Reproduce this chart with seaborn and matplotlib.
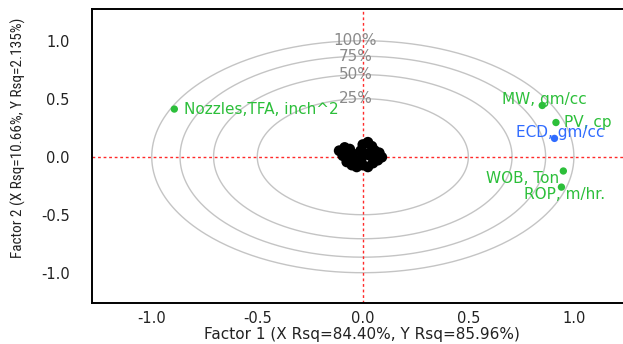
import numpy as np
import pandas as pd
import matplotlib
matplotlib.use("Agg")
import matplotlib.pyplot as plt
import seaborn as sns

# Variable loadings on the two factors
variables = ["Nozzles,TFA, inch^2", "MW, gm/cc", "PV, cp", "ECD, gm/cc", "WOB, Ton", "ROP, m/hr."]
load_x = [-0.893, 0.850, 0.915, 0.908, 0.950, 0.941]
load_y = [0.411, 0.442, 0.295, 0.158, -0.123, -0.262]
groups = ["X", "X", "X", "Y", "X", "Y2"]

# Observation scores clustered near the origin
score_x = [-0.112, -0.086, -0.062, -0.048, -0.095, -0.076, -0.052, -0.029, -0.038,
           0.000, 0.024, 0.043, 0.057, 0.078, 0.090, 0.071, 0.048, 0.024, 0.000,
           -0.005, 0.019, -0.010, -0.070, 0.035, 0.060, -0.020]
score_y = [0.052, 0.080, 0.066, 0.026, 0.009, -0.045, -0.072, -0.088, -0.034,
           0.105, 0.125, 0.090, 0.052, 0.034, -0.004, -0.030, -0.055, -0.088, -0.072,
           -0.009, 0.026, 0.052, 0.030, 0.010, 0.000, -0.055]

# Percent-of-variance circles
circle_pct = [25, 50, 75, 100]
circle_labels = ["25%", "50%", "75%", "100%"]

# Tick values
xticks = [-1.0, -0.5, 0.0, 0.5, 1.0]
yticks = [-1.0, -0.5, 0.0, 0.5, 1.0]

sns.set_style("white")
plt.rcParams["font.family"] = ["DejaVu Sans"]

GREEN = "#2cbf3a"
BLUE = "#2f6bff"
RED = "#ff2a2a"

fig = plt.figure(figsize=(6.23, 3.44), dpi=100)
ax = fig.add_axes([92 / 623, 41 / 344, (633 - 92) / 623, (334.7 - 41) / 344])

# circles
theta = np.linspace(0, 2 * np.pi, 400)
for pct, lab in zip(circle_pct, circle_labels):
    r = np.sqrt(pct / 100)
    ax.plot(r * np.cos(theta), r * np.sin(theta), color="#c4c4c4", lw=1.0, zorder=1)
    ax.text(-0.035, r, lab, color="#8a8a8a", fontsize=11, ha="center", va="center", zorder=2)

# reference lines
ax.axhline(0, color=RED, lw=1.0, ls=(0, (2, 2)), zorder=1.5)
ax.axvline(0, color=RED, lw=1.0, ls=(0, (2, 2)), zorder=1.5)

scores = pd.DataFrame({"f1": score_x, "f2": score_y})
sns.scatterplot(data=scores, x="f1", y="f2", color="black", s=60, edgecolor="none",
                ax=ax, zorder=3, legend=False)

loads = pd.DataFrame({"f1": load_x, "f2": load_y, "name": variables, "grp": groups})
palette = {"X": GREEN, "Y": BLUE, "Y2": GREEN}
sns.scatterplot(data=loads, x="f1", y="f2", hue="grp", palette=palette, s=28,
                edgecolor="none", ax=ax, zorder=4, legend=False)

# label placement: (offset in points, ha)
label_style = {
    "Nozzles,TFA, inch^2": ((7, 0), "left"),
    "MW, gm/cc": ((1.5, 4.5), "center"),
    "PV, cp": ((5.5, 0), "left"),
    "ECD, gm/cc": ((4, 4.5), "center"),
    "WOB, Ton": ((-3, -5.5), "right"),
    "ROP, m/hr.": ((2, -5.5), "center"),
}
for name, x, y, g in zip(variables, load_x, load_y, groups):
    off, ha = label_style[name]
    ax.annotate(name, (x, y), xytext=off, textcoords="offset points",
                ha=ha, va="center", fontsize=11, color=palette[g], zorder=5)

ax.set_xlim(-1.283, 1.28)
ax.set_ylim(-1.261, 1.271)
ax.set_xticks(xticks)
ax.set_yticks(yticks)
ax.set_xticks(np.arange(-1.25, 1.26, 0.25), minor=True)
ax.set_yticks(np.arange(-1.25, 1.26, 0.25), minor=True)
ax.set_xticklabels([f"{v:.1f}" for v in xticks])
ax.set_yticklabels([f"{v:.1f}" for v in yticks])
ax.tick_params(axis="x", which="major", length=5, width=1, color="#555555",
               labelsize=10.5, pad=1, labelcolor="#222222")
ax.tick_params(axis="x", which="minor", length=4, width=1, color="#555555")
ax.tick_params(axis="y", which="major", length=8, width=1, color="#555555",
               labelsize=10.5, pad=8, labelcolor="#222222")
ax.tick_params(axis="y", which="minor", length=4, width=1, color="#555555")

# the zero ticks sit under the red reference lines
for axis, vals in ((ax.xaxis, xticks), (ax.yaxis, yticks)):
    for t, v in zip(axis.get_major_ticks(), vals):
        if v == 0:
            t.tick1line.set_color(RED)

for side in ["left", "bottom", "top", "right"]:
    ax.spines[side].set_color("black")
    ax.spines[side].set_linewidth(1.4)

ax.set_xlabel("Factor 1 (X Rsq=84.40%, Y Rsq=85.96%)", fontsize=11, color="#222222",
              va="center")
ax.xaxis.set_label_coords((362 - 92) / (633 - 92), -(334 - 303) / (303 - 9.3))
ax.set_ylabel("Factor 2 (X Rsq=10.66%, Y Rsq=2.135%)", fontsize=11, color="#222222",
              family=["Roboto Condensed", "Open Sans Condensed", "DejaVu Sans Condensed",
                      "Liberation Sans Narrow", "Roboto", "DejaVu Sans"],
              stretch="condensed")
ax.yaxis.set_label_coords(-(92 - 26) / (633 - 92), (303 - 138) / (303 - 9.3))

fig.savefig("out.png", dpi=100)
